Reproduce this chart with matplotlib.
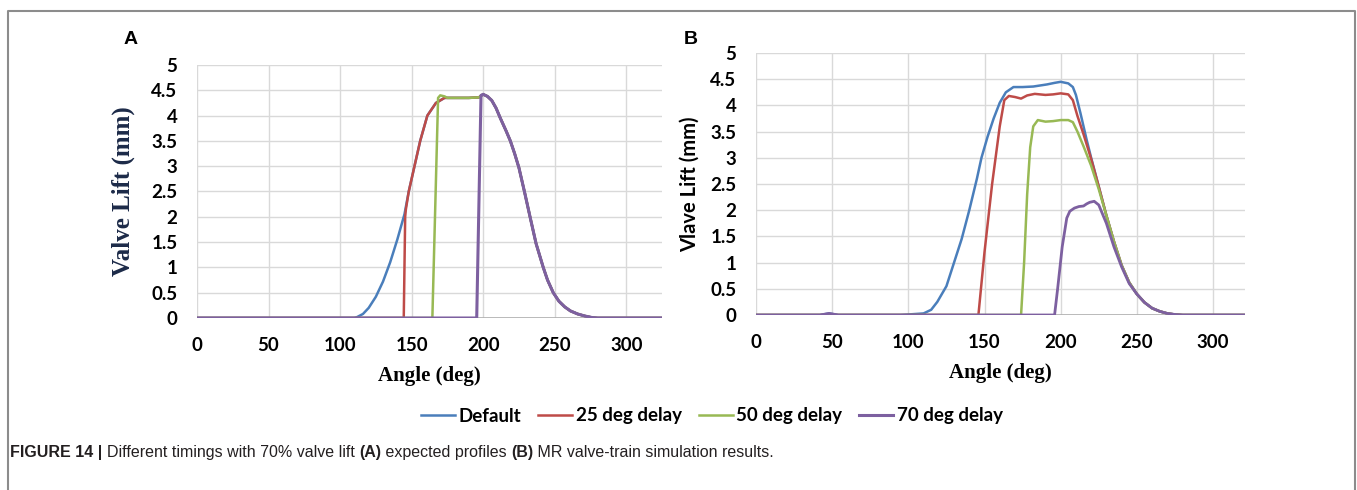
import matplotlib.pyplot as plt
from matplotlib.lines import Line2D

# series colours (excel defaults)
c_def = '#4a7ebb'
c_25 = '#be4b48'
c_50 = '#98b954'
c_70 = '#7d60a0'

labels = ['Default', '25 deg delay', '50 deg delay', '70 deg delay']

# panel A - expected profiles
a_def_x = [0, 110, 112, 116, 120, 125, 130, 135, 140, 145, 148, 152, 156, 161, 167, 173, 190, 197, 200, 203, 206, 209, 212,
           216, 219, 222, 225, 229, 233, 237, 242, 245, 249, 253, 257, 261, 266, 271, 276, 280, 325]
a_def_y = [0, 0, 0.02, 0.08, 0.2, 0.42, 0.72, 1.1, 1.55, 2.05, 2.5, 3.0, 3.5, 4.0, 4.25, 4.35, 4.35, 4.36, 4.42, 4.38, 4.3,
           4.15, 3.95, 3.7, 3.5, 3.25, 2.97, 2.48, 1.97, 1.47, 1.0, 0.75, 0.5, 0.33, 0.22, 0.14, 0.08, 0.04, 0.01, 0, 0]
a_25_x = [0, 144.5, 145.5, 146, 148, 152, 156, 161, 167, 173, 190, 197, 200, 203, 206, 209, 212,
          216, 219, 222, 225, 229, 233, 237, 242, 245, 249, 253, 257, 261, 266, 271, 276, 280, 325]
a_25_y = [0, 0, 2.0, 2.15, 2.5, 3.0, 3.5, 4.0, 4.25, 4.35, 4.35, 4.36, 4.42, 4.38, 4.3,
          4.15, 3.95, 3.7, 3.5, 3.25, 2.97, 2.48, 1.97, 1.47, 1.0, 0.75, 0.5, 0.33, 0.22, 0.14, 0.08, 0.04, 0.01, 0, 0]
a_50_x = [0, 164.5, 168.5, 170, 173, 175, 190, 197, 200, 203, 206, 209, 212,
          216, 219, 222, 225, 229, 233, 237, 242, 245, 249, 253, 257, 261, 266, 271, 276, 280, 325]
a_50_y = [0, 0, 4.35, 4.4, 4.38, 4.35, 4.35, 4.36, 4.42, 4.38, 4.3,
          4.15, 3.95, 3.7, 3.5, 3.25, 2.97, 2.48, 1.97, 1.47, 1.0, 0.75, 0.5, 0.33, 0.22, 0.14, 0.08, 0.04, 0.01, 0, 0]
a_70_x = [0, 195.5, 198.5, 200, 203, 206, 209, 212,
          216, 219, 222, 225, 229, 233, 237, 242, 245, 249, 253, 257, 261, 266, 271, 276, 280, 325]
a_70_y = [0, 0, 4.4, 4.42, 4.38, 4.3,
          4.15, 3.95, 3.7, 3.5, 3.25, 2.97, 2.48, 1.97, 1.47, 1.0, 0.75, 0.5, 0.33, 0.22, 0.14, 0.08, 0.04, 0.01, 0, 0]

# panel B - MR valve-train simulation
b_def_x = [0, 42, 48, 54, 95, 110, 115, 119, 125, 130, 135, 140, 145, 148, 152, 156, 160, 164, 169, 175, 182, 191, 196, 200,
           205, 208, 210, 213, 217, 220, 225, 230, 235, 240, 245, 250, 255, 260, 265, 270, 275, 280, 321]
b_def_y = [0, 0, 0.03, 0, 0, 0.03, 0.1, 0.25, 0.55, 1.0, 1.45, 2.0, 2.6, 3.0, 3.4, 3.75, 4.05, 4.25, 4.35, 4.35, 4.36, 4.4, 4.43, 4.45,
           4.42, 4.35, 4.2, 3.85, 3.35, 3.0, 2.45, 1.9, 1.4, 0.95, 0.62, 0.4, 0.24, 0.13, 0.07, 0.03, 0.01, 0, 0]
b_25_x = [0, 146, 150, 155, 160, 163, 166, 170, 174, 178, 183, 190, 195, 200, 205, 208, 211, 215, 220, 225, 230, 235,
          240, 245, 250, 255, 260, 265, 270, 275, 280, 321]
b_25_y = [0, 0, 1.2, 2.5, 3.6, 4.1, 4.18, 4.16, 4.13, 4.19, 4.22, 4.2, 4.21, 4.23, 4.21, 4.1, 3.8, 3.45, 2.98, 2.45, 1.9, 1.4,
          0.95, 0.62, 0.4, 0.24, 0.13, 0.07, 0.03, 0.01, 0, 0]
b_50_x = [0, 174, 176, 178, 180, 182, 185, 190, 195, 200, 205, 208, 211, 215, 220, 225, 230, 235,
          240, 245, 250, 255, 260, 265, 270, 275, 280, 321]
b_50_y = [0, 0, 1.0, 2.3, 3.2, 3.6, 3.72, 3.69, 3.7, 3.72, 3.72, 3.68, 3.5, 3.22, 2.85, 2.4, 1.9, 1.4,
          0.95, 0.62, 0.4, 0.24, 0.13, 0.07, 0.03, 0.01, 0, 0]
b_70_x = [0, 42, 48, 54, 196, 198, 201, 204, 206, 209, 212, 215, 217, 219, 222, 225, 230, 235,
          240, 245, 250, 255, 260, 265, 270, 275, 280, 321]
b_70_y = [0, 0, 0.03, 0, 0, 0.5, 1.3, 1.85, 1.98, 2.04, 2.07, 2.08, 2.12, 2.15, 2.17, 2.1, 1.75, 1.3,
          0.92, 0.6, 0.4, 0.24, 0.13, 0.07, 0.03, 0.01, 0, 0]

y_ticks = [0, 0.5, 1, 1.5, 2, 2.5, 3, 3.5, 4, 4.5, 5]
y_tick_labels = ['0', '0.5', '1', '1.5', '2', '2.5', '3', '3.5', '4', '4.5', '5']
x_ticks = [0, 50, 100, 150, 200, 250, 300]

W, H = 1357, 490
fig = plt.figure(figsize=(W / 100, H / 100), dpi=100)


def px(x0, y0, x1, y1):
    # pixel box -> figure fraction rect
    return [x0 / W, 1 - y1 / H, (x1 - x0) / W, (y1 - y0) / H]


tick_font = dict(family=['Lato', 'DejaVu Sans'], weight='bold', size=13.5)


def style(ax, xmax):
    ax.set_xlim(0, xmax)
    ax.set_ylim(0, 5)
    ax.set_xticks(x_ticks)
    ax.set_yticks(y_ticks)
    ax.set_yticklabels(y_tick_labels)
    for s in ax.spines.values():
        s.set_visible(False)
    ax.grid(True, color='#d9d9d9', linewidth=1.0)
    ax.set_axisbelow(True)
    ax.tick_params(length=0, pad=14)
    for t in ax.get_xticklabels() + ax.get_yticklabels():
        t.set_fontproperties(tick_font)
    ax.axhline(0, color='#b0b0b0', linewidth=1.2, zorder=1)


axA = fig.add_axes(px(197, 65, 662, 318))
axA.plot(a_def_x, a_def_y, color=c_def, lw=1.8, label=labels[0])
axA.plot(a_25_x, a_25_y, color=c_25, lw=1.8, label=labels[1])
axA.plot(a_50_x, a_50_y, color=c_50, lw=1.8, label=labels[2])
axA.plot(a_70_x, a_70_y, color=c_70, lw=2.2, label=labels[3])
style(axA, 325)
axA.set_xlabel('Angle (deg)', family='Liberation Serif', weight='bold', size=15, labelpad=8)
axA.set_ylabel('Valve Lift (mm)', family='Liberation Serif', weight='bold', size=18, color='#1c2a48', labelpad=12)

axB = fig.add_axes(px(756, 53, 1245, 315))
axB.plot(b_def_x, b_def_y, color=c_def, lw=1.8)
axB.plot(b_25_x, b_25_y, color=c_25, lw=1.8)
axB.plot(b_50_x, b_50_y, color=c_50, lw=1.8)
axB.plot(b_70_x, b_70_y, color=c_70, lw=2.0)
style(axB, 321)
axB.set_xlabel('Angle (deg)', family='Liberation Serif', weight='bold', size=15, labelpad=8)
axB.set_ylabel('Vlave Lift (mm)', family=['Lato', 'DejaVu Sans'], weight='bold', size=14.5, labelpad=8)

fig.text(124 / W, 1 - 40 / H, 'A', family='Liberation Sans', weight='bold', size=14, va='center')
fig.text(684 / W, 1 - 40 / H, 'B', family='Liberation Sans', weight='bold', size=14, va='center')

handles, lbls = axA.get_legend_handles_labels()
fig.legend(handles, lbls, loc='center', bbox_to_anchor=(712 / W, 1 - 416 / H), ncol=4, frameon=False,
           prop=dict(family=['Lato', 'DejaVu Sans'], weight='bold', size=13.5),
           handlelength=1.8, handletextpad=0.2, columnspacing=0.9)

# frame round the figure panel
fig.add_artist(Line2D([8 / W, 8 / W, 1355 / W, 1355 / W], [0, 1 - 11 / H, 1 - 11 / H, 0],
                      transform=fig.transFigure, color='#8c8c8c', lw=1.5))

# caption, built piece by piece, each piece placed after the previous one
cap = [('FIGURE 14 | ', 'bold'), ('Different timings with 70% valve lift ', 'normal'), ('(A)', 'bold'),
       (' expected profiles ', 'normal'), ('(B)', 'bold'), (' MR valve-train simulation results.', 'normal')]
prev = fig.text(10 / W, 1 - 452 / H, cap[0][0], family='Liberation Sans', weight=cap[0][1], size=11.5,
                va='center', color='#231f20')
for txt, wt in cap[1:]:
    prev = fig.add_artist(plt.Annotation(txt, xy=(1, 0), xycoords=prev, va='bottom', ha='left',
                                         family='Liberation Sans', weight=wt, size=11.5, color='#231f20'))

fig.savefig('out.png', dpi=100)
